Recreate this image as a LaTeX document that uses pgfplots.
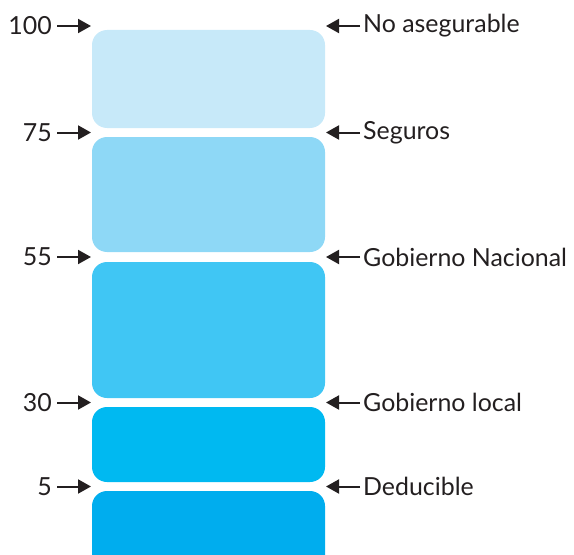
\documentclass[border=0pt]{standalone}
\usepackage{pgfplots}
\pgfplotsset{compat=1.18}
\usepackage{pgfplotstable}
\usepackage{fontspec}
\setmainfont{Lato}
\usetikzlibrary{arrows.meta}

\definecolor{ink}{HTML}{231F20}
\definecolor{c1}{HTML}{C7E9F9}
\definecolor{c2}{HTML}{8ED8F6}
\definecolor{c3}{HTML}{40C6F4}
\definecolor{c4}{HTML}{00B9F1}
\definecolor{c5}{HTML}{00ADEE}

% level marks: position on the page (px from top), value, name
\pgfplotstableread[col sep=comma]{
pos,value,name
26,100,No asegurable
132.5,75,Seguros
257,55,Gobierno Nacional
402.5,30,Gobierno local
486.5,5,Deducible
}\levels

\begin{document}
\begin{tikzpicture}
\begin{axis}[
  width=574bp, height=555bp, scale only axis,
  xmin=0, xmax=574, ymin=0, ymax=555,
  y dir=reverse,
  hide axis,
  clip=true,
]
% the bands
\addplot[fill=c1, draw=none, rounded corners=15bp] coordinates {(92,30) (325,30) (325,128) (92,128)} -- cycle;
\addplot[fill=c2, draw=none, rounded corners=15bp] coordinates {(92,137) (325,137) (325,252) (92,252)} -- cycle;
\addplot[fill=c3, draw=none, rounded corners=15bp] coordinates {(92,262) (325,262) (325,398) (92,398)} -- cycle;
\addplot[fill=c4, draw=none, rounded corners=15bp] coordinates {(92,407) (325,407) (325,482) (92,482)} -- cycle;
\addplot[fill=c5, draw=none, rounded corners=15bp] coordinates {(92,491) (325,491) (325,580) (92,580)} -- cycle;

% numbers on the left
\addplot[only marks, mark=none, nodes near coords, point meta=explicit symbolic,
  nodes near coords style={anchor=east, text=ink, font=\fontsize{25}{30}\selectfont, inner sep=0pt}]
  table[x expr=52, y=pos, meta=value] \levels;
% names on the right
\addplot[only marks, mark=none, nodes near coords, point meta=explicit symbolic,
  nodes near coords style={anchor=west, text=ink, font=\fontsize{25}{30}\selectfont, inner sep=0pt}]
  table[x expr=363, y=pos, meta=name] \levels;

% arrows
\pgfplotsinvokeforeach{26,132.5,257,402.5,486.5}{
  \draw[ink, line width=2bp, -{Triangle[length=13bp,width=14bp]}] (axis cs:57,#1) -- (axis cs:91,#1);
  \draw[ink, line width=2bp, -{Triangle[length=13bp,width=14bp]}] (axis cs:360,#1) -- (axis cs:326,#1);
}
\end{axis}
\path (current axis.south west) rectangle (current axis.north east);
\end{tikzpicture}
\end{document}
